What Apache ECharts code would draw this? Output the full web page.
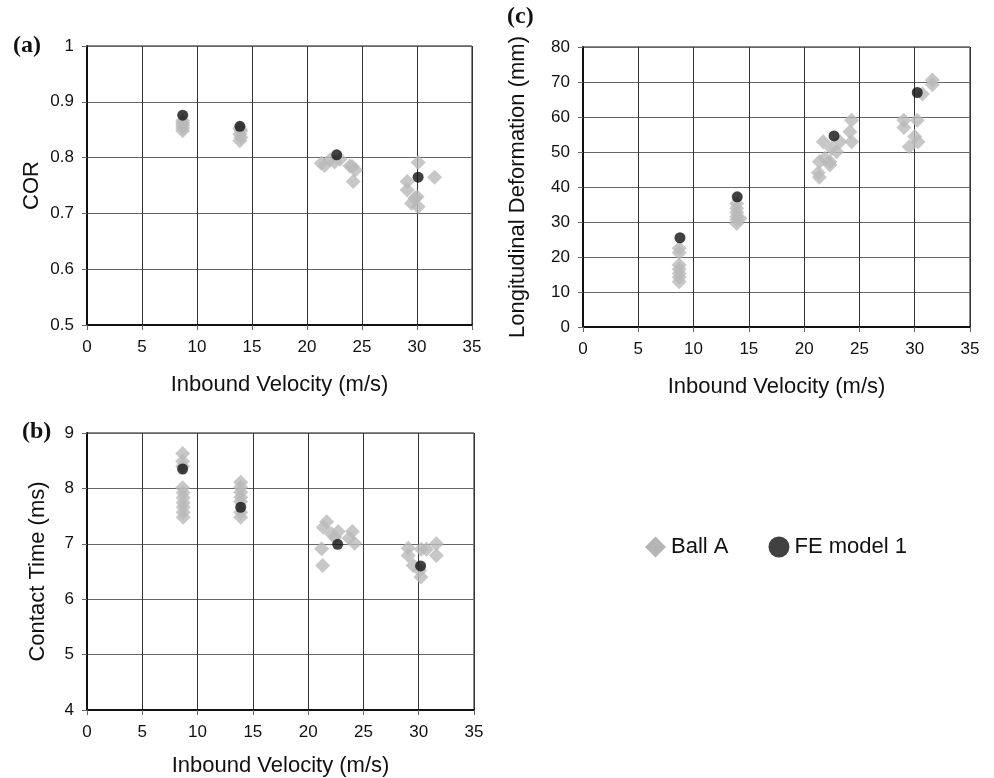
<!DOCTYPE html>
<html>
<head>
<meta charset="utf-8">
<script src="https://cdn.jsdelivr.net/npm/echarts@6/dist/echarts.min.js"></script>
<style>
  html, body { margin: 0; padding: 0; background: #fff; }
  #chart { width: 994px; height: 778px; }
</style>
</head>
<body>
<div id="chart"></div>
<script>
// x ticks shared by all panels
const velocityTicks = [0, 5, 10, 15, 20, 25, 30, 35];

// (a) COR vs inbound velocity
const corBallA = [
  [8.7, 0.848], [8.7, 0.853], [8.7, 0.858], [8.7, 0.862], [8.7, 0.866],
  [13.9, 0.830], [14.0, 0.836], [13.9, 0.842], [14.0, 0.848], [13.9, 0.852],
  [21.3, 0.790], [21.6, 0.786], [22.1, 0.796], [22.5, 0.792], [23.0, 0.797],
  [23.9, 0.785], [24.1, 0.784], [24.4, 0.778], [24.2, 0.757],
  [30.1, 0.791], [31.6, 0.765], [29.1, 0.757], [29.1, 0.742], [30.0, 0.730],
  [29.8, 0.727], [29.5, 0.718], [30.1, 0.712]
];
const corFE = [[8.7, 0.876], [13.9, 0.856], [22.7, 0.805], [30.1, 0.765]];

// (b) contact time vs inbound velocity
const timeBallA = [
  [8.65, 8.63], [8.65, 8.49], [8.65, 8.40], [8.65, 8.01], [8.7, 7.92], [8.7, 7.83],
  [8.7, 7.74], [8.7, 7.66], [8.7, 7.57], [8.7, 7.48],
  [13.9, 8.11], [13.9, 8.02], [13.9, 7.93], [13.9, 7.84], [13.9, 7.76], [13.9, 7.57], [13.9, 7.48],
  [21.67, 7.40], [21.37, 7.30], [22.12, 7.18], [22.72, 7.22], [22.42, 7.12],
  [21.22, 6.91], [21.31, 6.61], [24.0, 7.22], [23.7, 7.10], [24.2, 7.01],
  [29.05, 6.92], [29.05, 6.79], [30.23, 6.90], [30.7, 6.90], [31.6, 7.00],
  [31.6, 6.79], [29.5, 6.61], [30.1, 6.52], [30.2, 6.40]
];
const timeFE = [[8.65, 8.35], [13.9, 7.66], [22.67, 6.99], [30.17, 6.60]];

// (c) longitudinal deformation vs inbound velocity
const deformBallA = [
  [8.7, 22.5], [8.7, 21.2], [8.7, 17.7], [8.7, 16.5], [8.7, 15.3], [8.7, 14.2], [8.7, 12.9],
  [13.9, 35.3], [13.9, 33.9], [13.9, 32.7], [13.9, 31.5], [13.9, 30.6], [13.9, 29.6], [14.2, 31.0],
  [21.28, 44.1], [21.37, 42.8], [21.37, 47.2], [21.73, 52.9], [21.88, 48.2], [22.33, 47.2],
  [22.33, 46.3], [22.48, 51.0], [22.93, 50.1], [23.23, 52.9], [24.14, 55.8], [24.29, 52.9], [24.29, 59.1],
  [29.02, 59.1], [29.02, 57.0], [29.5, 51.5], [30.23, 59.1], [30.0, 54.4], [30.3, 52.9],
  [30.7, 66.6], [31.6, 70.6], [31.6, 69.2]
];
const deformFE = [[8.77, 25.5], [13.95, 37.2], [22.7, 54.6], [30.23, 67.0]];

const font = 'Liberation Sans, Arial, sans-serif';
const ballColor = '#b9b9b9';
const feColor = '#111';

function xAxisFor(gridIndex, gap) {
  return {
    gridIndex: gridIndex,
    type: 'value',
    min: velocityTicks[0],
    max: velocityTicks[velocityTicks.length - 1],
    interval: 5,
    name: 'Inbound Velocity (m/s)',
    nameLocation: 'middle',
    nameGap: gap,
    nameTextStyle: { fontFamily: font, fontSize: 22, color: '#111' },
    axisLine: { onZero: false, lineStyle: { color: '#111', width: 2 } },
    axisTick: { show: true, length: 5, lineStyle: { color: '#666' } },
    axisLabel: { fontFamily: font, fontSize: 17, color: '#111', margin: 14 },
    splitLine: { show: true, lineStyle: { color: '#333', width: 1 } }
  };
}

function yAxisFor(gridIndex, min, max, interval, name, gap) {
  return {
    gridIndex: gridIndex,
    type: 'value',
    min: min,
    max: max,
    interval: interval,
    name: name,
    nameLocation: 'middle',
    nameGap: gap,
    nameTextStyle: { fontFamily: font, fontSize: 22, color: '#111' },
    axisLine: { onZero: false, lineStyle: { color: '#111', width: 2 } },
    axisTick: { show: true, length: 5, lineStyle: { color: '#666' } },
    axisLabel: { fontFamily: font, fontSize: 17, color: '#111', margin: 13 },
    splitLine: { show: true, lineStyle: { color: '#666', width: 1 } }
  };
}

function ballSeries(i, data) {
  return {
    name: 'Ball A', type: 'scatter', xAxisIndex: i, yAxisIndex: i,
    symbol: 'diamond', symbolSize: 15, data: data,
    itemStyle: { color: ballColor }, z: 2
  };
}
function feSeries(i, data) {
  return {
    name: 'FE model 1', type: 'scatter', xAxisIndex: i, yAxisIndex: i,
    symbol: 'circle', symbolSize: 11, data: data,
    itemStyle: { color: feColor }, z: 3
  };
}

const chart = echarts.init(document.getElementById('chart'));
const panelLabel = { fontFamily: 'Liberation Serif, Times New Roman, serif', fontSize: 24, fontWeight: 'bold', fill: '#111' };

chart.setOption({
  animation: false,
  backgroundColor: '#fff',
  graphic: [
    { type: 'text', left: 13, top: 34, style: Object.assign({ text: '(a)' }, panelLabel) },
    { type: 'text', left: 22, top: 420, style: Object.assign({ text: '(b)' }, panelLabel) },
    { type: 'text', left: 507, top: 5, style: Object.assign({ text: '(c)' }, panelLabel) }
  ],
  legend: {
    left: 640, top: 531,
    itemGap: 40, itemWidth: 21, itemHeight: 21,
    textStyle: { fontFamily: font, fontSize: 22, color: '#111' },
    data: [
      { name: 'Ball A', icon: 'diamond', itemStyle: { color: '#a3a3a3' } },
      { name: 'FE model 1', icon: 'circle' }
    ]
  },
  grid: [
    { left: 87, top: 46, width: 385, height: 279, show: true, borderColor: '#111', borderWidth: 1 },
    { left: 87, top: 433, width: 387, height: 280, show: true, borderColor: '#111', borderWidth: 1 },
    { left: 583, top: 47, width: 387, height: 280, show: true, borderColor: '#111', borderWidth: 1 }
  ],
  xAxis: [xAxisFor(0, 49), xAxisFor(1, 45), xAxisFor(2, 49)],
  yAxis: [
    yAxisFor(0, 0.5, 1, 0.1, 'COR', 44),
    yAxisFor(1, 4, 9, 1, 'Contact Time (ms)', 38),
    yAxisFor(2, 0, 80, 10, 'Longitudinal Deformation (mm)', 54)
  ],
  series: [
    ballSeries(0, corBallA), feSeries(0, corFE),
    ballSeries(1, timeBallA), feSeries(1, timeFE),
    ballSeries(2, deformBallA), feSeries(2, deformFE)
  ]
});
</script>
</body>
</html>
